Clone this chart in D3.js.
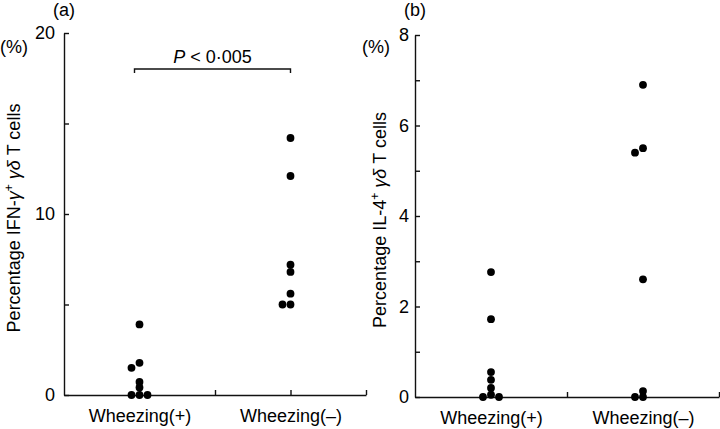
<!DOCTYPE html>
<html>
<head>
<meta charset="utf-8">
<script src="https://cdn.jsdelivr.net/npm/d3@7"></script>
<style>
  body { margin: 0; background: #fff; }
  svg text { font-family: "Liberation Sans", Arial, sans-serif; fill: #000; }
</style>
</head>
<body>
<div id="plot"></div>
<script>
// groups on the x axis
const groups = ["Wheezing(+)", "Wheezing(–)"];

// (a) IFN-gamma+ gamma-delta T cells, %
const ifnWheezePos = [3.9, 1.78, 1.5, 0.72, 0.42, 0, 0, 0];
const ifnWheezeNeg = [14.2, 12.1, 7.2, 6.8, 5.6, 5.0, 5.0];
const ifnTicks = [0, 5, 10, 15, 20];
const ifnTickLabels = [0, 10, 20];

// (b) IL-4+ gamma-delta T cells, %
const il4WheezePos = [2.76, 1.72, 0.55, 0.38, 0.2, 0.05, 0, 0];
const il4WheezeNeg = [6.9, 5.5, 5.4, 2.6, 0.13, 0, 0];
const il4Ticks = [0, 1, 2, 3, 4, 5, 6, 7, 8];
const il4TickLabels = [0, 2, 4, 6, 8];

const width = 720, height = 429;

const svg = d3.select("#plot")
  .append("svg")
  .attr("width", width)
  .attr("height", height)
  .attr("viewBox", `0 0 ${width} ${height}`);

// push overlapping dots sideways, like a hand drawn dot plot
const dodge = (values, y, cx) => {
  const placed = [];
  const d = 8;
  values.slice().sort((a, b) => b - a).forEach(v => {
    const cy = y(v);
    for (const off of [0, -d, d, -2 * d, 2 * d]) {
      const hit = placed.some(p => Math.abs(p.cy - cy) < 5.2 && Math.abs(p.cx - (cx + off)) < 6);
      if (!hit) { placed.push({v, cx: cx + off, cy}); break; }
    }
  });
  return placed;
};

const drawPanel = (cfg) => {
  const g = svg.append("g").attr("class", "panel");

  const x = d3.scaleLinear().domain([0, 4]).range([cfg.left, cfg.right]);
  const y = d3.scaleLinear().domain([0, cfg.max]).range([cfg.bottom, cfg.top]);

  // y axis, ticks point inward
  const yAxis = g.append("g")
    .attr("transform", `translate(${cfg.left},0)`)
    .call(d3.axisLeft(y)
      .tickValues(cfg.ticks)
      .tickSizeInner(-5)
      .tickSizeOuter(0)
      .tickPadding(cfg.labelPad)
      .tickFormat(t => cfg.tickLabels.includes(t) ? t : ""));

  // x axis
  const xAxis = g.append("g")
    .attr("transform", `translate(0,${cfg.bottom})`)
    .call(d3.axisBottom(x)
      .tickValues([1, 2, 3, 4])
      .tickSizeInner(-5)
      .tickSizeOuter(0)
      .tickPadding(14)
      .tickFormat(t => t === 1 ? groups[0] : t === 3 ? groups[1] : ""));

  [yAxis, xAxis].forEach(a => {
    a.selectAll("path, line").attr("stroke", "#111").attr("stroke-width", 1.4);
    a.selectAll("text").attr("font-size", 18).attr("fill", "#000");
  });

  // dots
  const pts = [
    ...dodge(cfg.pos, y, x(1)),
    ...dodge(cfg.neg, y, x(3))
  ];
  g.selectAll("circle")
    .data(pts)
    .join("circle")
    .attr("cx", d => d.cx)
    .attr("cy", d => d.cy)
    .attr("r", 3.9)
    .attr("fill", "#000");

  // panel letter and unit
  g.append("text")
    .attr("x", cfg.left)
    .attr("y", 16)
    .attr("text-anchor", "middle")
    .attr("font-size", 18)
    .text(cfg.letter);
  g.append("text")
    .attr("x", cfg.unitX)
    .attr("y", 53)
    .attr("font-size", 18)
    .text("(%)");

  // rotated y label with greek + superscript
  const lab = g.append("text")
    .attr("transform", `translate(${cfg.labelX},${(cfg.top + cfg.bottom) / 2 + 4}) rotate(-90)`)
    .attr("text-anchor", "middle")
    .attr("font-size", 18);
  lab.append("tspan").text(`Percentage ${cfg.cytokine}`);
  if (cfg.greekFirst) {
    lab.append("tspan").attr("font-style", "italic").text("γ");
  }
  lab.append("tspan").attr("font-size", 12).attr("dy", -7).text("+");
  lab.append("tspan").attr("dy", 7).text(" ");
  lab.append("tspan").attr("font-style", "italic").text("γδ");
  lab.append("tspan").text(" T cells");

  return {g, x, y};
};

const a = drawPanel({
  left: 64, right: 366, top: 33, bottom: 395,
  max: 20, ticks: ifnTicks, tickLabels: ifnTickLabels, labelPad: 9,
  pos: ifnWheezePos, neg: ifnWheezeNeg,
  letter: "(a)", unitX: 0, labelX: 20,
  cytokine: "IFN-", greekFirst: true
});

drawPanel({
  left: 415, right: 719, top: 35, bottom: 397,
  max: 8, ticks: il4Ticks, tickLabels: il4TickLabels, labelPad: 6,
  pos: il4WheezePos, neg: il4WheezeNeg,
  letter: "(b)", unitX: 362, labelX: 386,
  cytokine: "IL-4", greekFirst: false
});

// significance bracket on panel (a)
const bx0 = a.x(1) - 5, bx1 = a.x(3), by = 69;
a.g.append("path")
  .attr("d", `M${bx0},${by + 4}V${by}H${bx1}V${by + 4}`)
  .attr("fill", "none")
  .attr("stroke", "#111")
  .attr("stroke-width", 1.4);
const pLab = a.g.append("text")
  .attr("x", (bx0 + bx1) / 2)
  .attr("y", 63)
  .attr("text-anchor", "middle")
  .attr("font-size", 18);
pLab.append("tspan").attr("font-style", "italic").text("P");
pLab.append("tspan").text(" < 0·005");
</script>
</body>
</html>
